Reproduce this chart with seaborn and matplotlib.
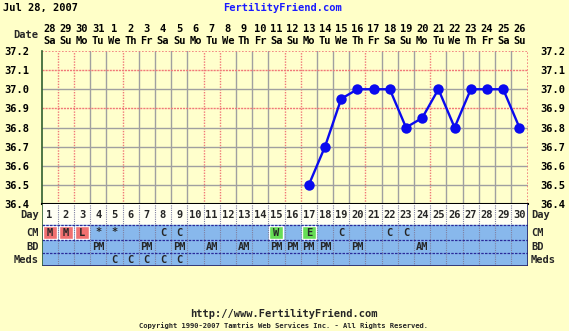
import matplotlib
matplotlib.use("Agg")
import matplotlib.pyplot as plt
import matplotlib.transforms as mtransforms
import seaborn as sns
import pandas as pd

# ---------------- data ----------------
days = list(range(1, 31))
dates = ["28", "29", "30", "31", "1", "2", "3", "4", "5", "6", "7", "8", "9", "10",
         "11", "12", "13", "14", "15", "16", "17", "18", "19", "20", "21", "22",
         "23", "24", "25", "26"]
weekdays = ["Sa", "Su", "Mo", "Tu", "We", "Th", "Fr", "Sa", "Su", "Mo", "Tu", "We",
            "Th", "Fr", "Sa", "Su", "Mo", "Tu", "We", "Th", "Fr", "Sa", "Su", "Mo",
            "Tu", "We", "Th", "Fr", "Sa", "Su"]
temp_days = [17, 18, 19, 20, 21, 22, 23, 24, 25, 26, 27, 28, 29, 30]
temps = [36.5, 36.7, 36.95, 37.0, 37.0, 37.0, 36.8, 36.85, 37.0, 36.8, 37.0, 37.0, 37.0, 36.8]
y_ticks = [36.4, 36.5, 36.6, 36.7, 36.8, 36.9, 37.0, 37.1, 37.2]
y_labels = ["36.4", "36.5", "36.6", "36.7", "36.8", "36.9", "37.0", "37.1", "37.2"]

cm_days = [1, 2, 3, 4, 5, 8, 9, 15, 17, 19, 22, 23]
cm_marks = ["M", "M", "L", "*", "*", "C", "C", "W", "E", "C", "C", "C"]
cm_red_days = [1, 2, 3]
cm_green_days = [15, 17]
bd_days = [4, 7, 9, 11, 13, 15, 16, 17, 18, 20, 24]
bd_marks = ["PM", "PM", "PM", "AM", "AM", "PM", "PM", "PM", "PM", "PM", "AM"]
meds_days = [5, 6, 7, 8, 9]
meds_marks = ["C", "C", "C", "C", "C"]
pink_boundaries = [1, 2, 5, 10, 11, 15, 16, 20, 24]
pink_hlines = [37.1, 36.9]

# ---------------- style ----------------
sns.set_theme(style="white")
plt.rcParams["font.family"] = ["DejaVu Sans Mono"]
plt.rcParams["font.weight"] = "bold"

W, H = 569, 331
BG = "#ffffc8"
PLOT_BG = "#ffffcc"
ROW_BLUE = "#88b8ec"
GRAY = "#a0a0a0"
PINK = "#f07878"
FS = 7.5

fig = plt.figure(figsize=(W / 100, H / 100), dpi=100, facecolor=BG)
px = mtransforms.Affine2D().scale(1 / W, -1 / H).translate(0, 1) + fig.transFigure

L, R, T, B = 41.5, 527.5, 51, 204
ax = fig.add_axes([L / W, 1 - B / H, (R - L) / W, (B - T) / H])
ax.set_facecolor(PLOT_BG)
ax.set_xlim(0.5, 30.5)
ax.set_ylim(36.4, 37.2)

# grid
for k in range(1, 30):
    if k in pink_boundaries:
        ax.axvline(k + 0.5, color=PINK, lw=1.0, ls=(0, (1, 1)), zorder=1)
    else:
        ax.axvline(k + 0.5, color=GRAY, lw=1.0, zorder=1)
for yv in y_ticks[1:-1]:
    if any(abs(yv - p) < 1e-6 for p in pink_hlines):
        ax.axhline(yv, color=PINK, lw=1.0, ls=(0, (1.5, 0.7)), zorder=1)
    else:
        ax.axhline(yv, color=GRAY, lw=1.0, zorder=1)
ax.axhline(37.2, color=PINK, lw=1.2, ls=(0, (1, 1)), zorder=1)
ax.axvline(30.5, color=PINK, lw=1.2, ls=(0, (1, 1)), zorder=1)

for s in ["top", "right"]:
    ax.spines[s].set_visible(False)
ax.spines["left"].set_color("#2f5f2f")
ax.spines["left"].set_linewidth(1.2)
ax.spines["bottom"].set_color("black")
ax.spines["bottom"].set_linewidth(1.5)

df = pd.DataFrame({"day": temp_days, "temp": temps})
sns.lineplot(data=df, x="day", y="temp", ax=ax, color="#0a0aee", marker="o",
             markersize=7.5, markeredgewidth=0, linewidth=1.7, zorder=5)
ax.set_xlabel("")
ax.set_ylabel("")
ax.set_xticks([])
ax.set_yticks(y_ticks)
ax.set_yticklabels(y_labels)
ax.tick_params(axis="y", left=False, right=False, labelleft=True, labelright=True,
               labelsize=FS, pad=3, colors="black")
for lab in ax.get_yticklabels():
    lab.set_fontweight("bold")

# header
blend = mtransforms.blended_transform_factory(ax.transData, px)
for d, dt, wd in zip(days, dates, weekdays):
    ax.text(d, 29, dt, transform=blend, ha="center", va="center", fontsize=FS,
            fontweight="bold", color="black", clip_on=False)
    ax.text(d, 41, wd, transform=blend, ha="center", va="center", fontsize=FS,
            fontweight="bold", color="black", clip_on=False)
fig.text(38.5, 35, "Date", transform=px, ha="right", va="center", fontsize=FS,
         fontweight="bold")
fig.text(3, 8, "Jul 28, 2007", transform=px, ha="left", va="center", fontsize=FS,
         fontweight="bold", color="black")
fig.text(283, 8, "FertilityFriend.com", transform=px, ha="center", va="center",
         fontsize=FS, fontweight="bold", color="#1a1aff")

# table below
TB = 266
tax = fig.add_axes([L / W, 1 - TB / H, (R - L) / W, (TB - B) / H])
tax.set_xlim(0.5, 30.5)
tax.set_ylim(TB, B)
tax.axis("off")
rows = [(204, 225, "#fffff4"), (225, 240, ROW_BLUE), (240, 253, ROW_BLUE), (253, 266, ROW_BLUE)]
for y0, y1, c in rows:
    tax.axhspan(y0, y1, color=c, zorder=0)
tax.bar(cm_red_days, height=13, bottom=226, width=0.86, color="#f07070", zorder=1)
tax.bar(cm_green_days, height=13, bottom=226, width=0.86, color="#66dd55", zorder=1)
for k in range(1, 30):
    tax.axvline(k + 0.5, color="#8080a0", lw=0.8, ls=(0, (1, 1)), zorder=2)
for yv in [225, 240, 253]:
    tax.axhline(yv, color="#2a2a9a", lw=0.9, ls=(0, (2, 1)), zorder=2)
tax.axhline(266, color="#222266", lw=1.2, zorder=3)
tax.axvline(0.5, color="#2f5f2f", lw=1.2, zorder=3)
tax.axvline(30.5, color="#222266", lw=1.2, zorder=3)

for d in days:
    tax.text(d, 215, str(d), ha="center", va="center", fontsize=FS, fontweight="bold")
for d, m in zip(cm_days, cm_marks):
    tax.text(d, 232.5, m, ha="center", va="center", fontsize=FS, fontweight="bold")
for d, m in zip(bd_days, bd_marks):
    tax.text(d, 247, m, ha="center", va="center", fontsize=FS, fontweight="bold")
for d, m in zip(meds_days, meds_marks):
    tax.text(d, 260, m, ha="center", va="center", fontsize=FS, fontweight="bold")

for lbl, yy in [("Day", 215), ("CM", 232.5), ("BD", 247), ("Meds", 260)]:
    fig.text(39, yy, lbl, transform=px, ha="right", va="center", fontsize=FS,
             fontweight="bold")
    fig.text(531, yy, lbl, transform=px, ha="left", va="center", fontsize=FS,
             fontweight="bold")

# footer
fig.text(284, 314, "http://www.FertilityFriend.com", transform=px, ha="center",
         va="center", fontsize=FS, fontweight="bold")
fig.text(284, 326, "Copyright 1990-2007 Tamtris Web Services Inc. - All Rights Reserved.",
         transform=px, ha="center", va="center", fontsize=5.1, fontweight="bold")

fig.savefig("out.png", dpi=100, facecolor=BG)
